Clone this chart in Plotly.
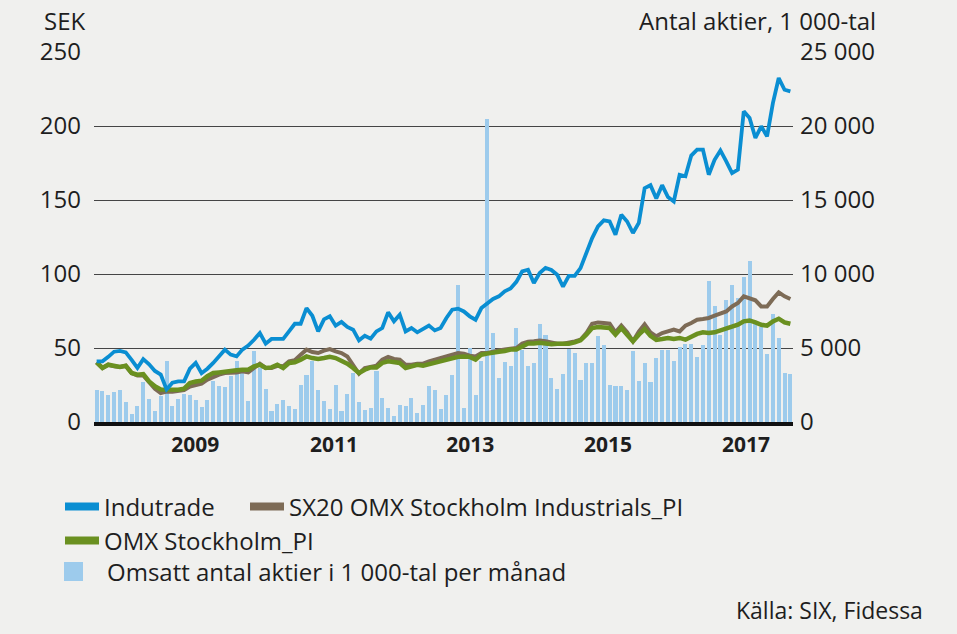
import plotly.graph_objects as go

# ---------------- data (monthly, 120 months) ----------------
months = [f"{2008 + k // 12}-{k % 12 + 1:02d}" for k in range(120)]

indutrade = [41, 41, 44, 47.5, 48, 47, 42, 36.5, 42.5, 39, 34.5, 32, 22, 26.5, 27.5, 27.5, 36, 40, 33, 36,
             39.9, 44.3, 48.9, 45.5, 44.3, 48.9, 51.6, 55.6, 60.1, 52.9, 56.1, 56.1, 56.1, 61.2, 66.4, 66.4, 77, 71.8, 61.2, 69.3,
             71.4, 65.1, 67.6, 64.2, 62.4, 55.2, 58.3, 56.3, 61.2, 63.5, 74.1, 68, 72.5, 61.2, 63.5, 60.6, 62.8, 65.1, 61.9, 63.5,
             70.3, 75.9, 76.6, 74.7, 71.4, 69.1, 77, 80.4, 83.1, 84.9, 88.3, 90.2, 94.7, 101.8, 102.9, 93.9, 100.7, 104.1, 102.7, 99.5,
             91.4, 98.8, 98.8, 104, 114.2, 124.3, 132.2, 136.2, 135.5, 126.6, 140, 135.5, 127.7, 134.5, 158, 160, 151, 160, 152, 149,
             167, 166, 180, 184, 184, 167.1, 177.2, 183.5, 176.1, 168.2, 170.5, 209.9, 205.4, 191.9, 199.8, 193, 215.5, 232.4, 224.5, 223.4]

sx20_industrials = [40.3, 36.5, 38.7, 37.6, 37.2, 38, 33.1, 31.5, 31.5, 26.5, 22.5, 19.5, 20.5, 20.5, 21, 21.5, 24, 25, 26, 28.6,
                    30.4, 32, 33.1, 33.1, 33.5, 34.2, 33.5, 36.5, 39.4, 36.5, 36.5, 38, 37.6, 41, 41.7, 45.5, 48.9, 47.3, 46.6, 48.2,
                    49.3, 47.7, 46.6, 44.3, 38.7, 32.6, 36.5, 37.2, 38, 42.1, 44, 42.6, 42.1, 38.7, 38.7, 39.4, 39.4, 41, 42.1, 43.2,
                    44.3, 45.5, 46.6, 46.2, 44.8, 44.3, 46.6, 46.6, 47.7, 48.4, 49, 49.5, 50, 53, 54.2, 54.5, 55, 54.5, 53.5, 52.9,
                    52.9, 53.4, 54.5, 55.6, 60, 66.4, 67.3, 66.9, 66.4, 60.6, 65.1, 60.6, 54.5, 61, 66, 60.6, 57.9, 60.1, 61.2, 62.4,
                    61.2, 65.1, 66.9, 69.1, 69.6, 70.3, 71.8, 73.2, 74.7, 78.1, 80.4, 84.9, 83.8, 82.2, 78.1, 78.1, 83.1, 87.6, 84.9, 83.1]

omx_stockholm = [40.3, 36.5, 38.7, 37.6, 37.2, 38, 33.1, 32, 32.4, 27.4, 24.1, 22, 21.8, 21.4, 21.8, 22.5, 26.4, 27.4, 27.9, 31,
                 33.1, 33.5, 34.2, 34.6, 34.9, 35.3, 35.3, 37.6, 38.7, 36.5, 36.9, 38.7, 36.5, 39.9, 40.3, 42.1, 44.3, 43.2, 42.6, 43.2,
                 44, 43.2, 41.7, 39.4, 36.5, 33.1, 35.3, 36.9, 36.9, 39.9, 41, 40.3, 39.9, 36.5, 37.6, 38.7, 38, 39.1, 39.9, 41,
                 41.7, 43.2, 44, 44.3, 44, 42.1, 45.5, 46.2, 47.1, 47.5, 48, 49, 49, 51.3, 53, 53, 53.5, 53, 52.5, 52.9,
                 52.9, 52.9, 53.8, 55.2, 59, 63.5, 64.2, 63.5, 63.5, 59, 63.5, 59, 54.5, 59, 62.8, 58.3, 55.5, 56.1, 56.8, 56.1,
                 56.8, 55.6, 57.9, 59.5, 60.6, 60.1, 60.6, 61.9, 63.5, 64.6, 65.7, 68, 68.6, 67.3, 65.7, 65.1, 68, 69.8, 67.3, 66.4]

volume_thousands = [2183, 2070, 1846, 2027, 2183, 1325, 563, 1056, 2680, 1573, 719, 1733, 4143, 1103, 1552, 1914, 1800, 1462, 989, 1462,
                    2746, 2455, 2365, 3084, 4143, 3650, 1395, 4773, 3650, 2252, 719, 1239, 1508, 1056, 900, 2520, 3196, 4095, 2183, 1392,
                    860, 2520, 716, 1912, 3311, 1324, 831, 946, 3480, 1590, 946, 410, 1169, 1054, 1590, 585, 1169, 2460, 2135, 900,
                    1845, 3196, 9277, 980, 5000, 1845, 4095, 20450, 5990, 2940, 4075, 3815, 6330, 4885, 3815, 3986, 6642, 5899, 2940, 2260,
                    3230, 4943, 4660, 2860, 3986, 3986, 5831, 5190, 2520, 2454, 2454, 2138, 4772, 2780, 4006, 2720, 4324, 4885, 4885, 4095,
                    5088, 5300, 5300, 4400, 5225, 9500, 7858, 5865, 8217, 9277, 8345, 9785, 10909, 6800, 6400, 4615, 7318, 5676, 3330, 3265]

year_labels = ["2009", "2011", "2013", "2015", "2017"]
year_label_pos = [16.9, 40.7, 64.1, 87.7, 111.4]
sek_ticks = [0, 50, 100, 150, 200, 250]
vol_ticks = [0, 5000, 10000, 15000, 20000, 25000]
vol_tick_text = ["0", "5 000", "10 000", "15 000", "20 000", "25 000"]

names = ["Indutrade", "SX20 OMX Stockholm Industrials_PI", "OMX Stockholm_PI",
         "Omsatt antal aktier i 1 000-tal per månad"]

# ---------------- styling ----------------
C_BLUE = "#0a8ed2"
C_BROWN = "#7d6b56"
C_GREEN = "#6a9020"
C_BAR = "#9dcbec"
BG = "#f0f0ee"
TXT = "#1e1e1e"
FONT = "Open Sans"

W, H = 957, 634
ML, MR, MT, MB = 94, 164, 52, 212
PW, PH = W - ML - MR, H - MT - MB


def px(xp):  # figure pixel x -> paper fraction
    return (xp - ML) / PW


def py(yp):  # figure pixel y -> paper fraction
    return (H - MB - yp) / PH


x = list(range(len(months)))

fig = go.Figure()

# bars on primary y (right side), lines on overlaying y2 (left side) so lines draw on top
fig.add_trace(go.Bar(x=x, y=volume_thousands, marker=dict(color=C_BAR, line=dict(width=0)),
                     width=0.7, showlegend=False, customdata=months, yaxis="y"))
fig.add_trace(go.Scatter(x=x, y=sx20_industrials, mode="lines", line=dict(color=C_BROWN, width=4),
                         showlegend=False, customdata=months, yaxis="y2"))
fig.add_trace(go.Scatter(x=x, y=omx_stockholm, mode="lines", line=dict(color=C_GREEN, width=4.5),
                         showlegend=False, customdata=months, yaxis="y2"))
fig.add_trace(go.Scatter(x=x, y=indutrade, mode="lines", line=dict(color=C_BLUE, width=3.8),
                         showlegend=False, customdata=months, yaxis="y2"))

# legend entries (legend-only swatches)
fig.add_trace(go.Scatter(x=[None], y=[None], mode="lines", line=dict(color=C_BLUE, width=8),
                         name=names[0], legend="legend", yaxis="y2"))
fig.add_trace(go.Scatter(x=[None], y=[None], mode="lines", line=dict(color=C_BROWN, width=8),
                         name=names[1], legend="legend2", yaxis="y2"))
fig.add_trace(go.Scatter(x=[None], y=[None], mode="lines", line=dict(color=C_GREEN, width=8),
                         name=names[2], legend="legend3", yaxis="y2"))
fig.add_trace(go.Scatter(x=[None], y=[None], mode="markers",
                         marker=dict(symbol="square", size=16, color=C_BAR, line=dict(color=C_BAR, width=3)),
                         name=names[3], legend="legend4", yaxis="y"))

leg_common = dict(bgcolor="rgba(0,0,0,0)", font=dict(family=FONT, size=24, color=TXT),
                  xref="paper", yref="paper", xanchor="left", yanchor="middle",
                  orientation="v")

fig.update_layout(
    width=W, height=H,
    margin=dict(l=ML, r=MR, t=MT, b=MB),
    paper_bgcolor=BG, plot_bgcolor=BG,
    font=dict(family=FONT, size=24, color=TXT),
    bargap=0,
    xaxis=dict(range=[-0.45, 119.45], showgrid=False, zeroline=False, automargin=False,
               tickvals=year_label_pos, ticktext=year_labels, ticks="",
               tickfont=dict(family=FONT, size=21, color=TXT, weight="bold"),
               showline=True, linecolor="#111111", linewidth=4, ticklabelstandoff=1),
    yaxis=dict(range=[0, 25000], side="right", tickvals=vol_ticks, ticktext=vol_tick_text,
               showgrid=True, gridcolor="#454545", gridwidth=1, zeroline=False, ticks="",
               automargin=False, showline=False, ticklabelstandoff=6, tickfont=dict(size=24, color=TXT)),
    yaxis2=dict(range=[0, 250], overlaying="y", side="left", tickvals=sek_ticks,
                showgrid=False, zeroline=False, ticks="", showline=False, automargin=False,
                ticklabelstandoff=12, tickfont=dict(size=24, color=TXT)),
    legend=dict(x=px(60), y=py(507), itemwidth=34, **leg_common),
    legend2=dict(x=px(245), y=py(507), itemwidth=34, **leg_common),
    legend3=dict(x=px(60), y=py(541), itemwidth=34, **leg_common),
    legend4=dict(x=px(40), y=py(572), itemwidth=57, **leg_common),
    annotations=[
        dict(text="SEK", xref="paper", yref="paper", x=px(42), y=py(20),
             xanchor="left", yanchor="middle", showarrow=False, font=dict(size=24, color=TXT)),
        dict(text="Antal aktier, 1 000-tal", xref="paper", yref="paper", x=px(878),
             y=py(20), xanchor="right", yanchor="middle", showarrow=False,
             font=dict(size=24, color=TXT)),
        dict(text="Källa: SIX, Fidessa", xref="paper", yref="paper", x=px(925),
             y=py(610), xanchor="right", yanchor="middle", showarrow=False,
             font=dict(size=23, color=TXT)),
    ],
)

fig.write_html("out.html")
